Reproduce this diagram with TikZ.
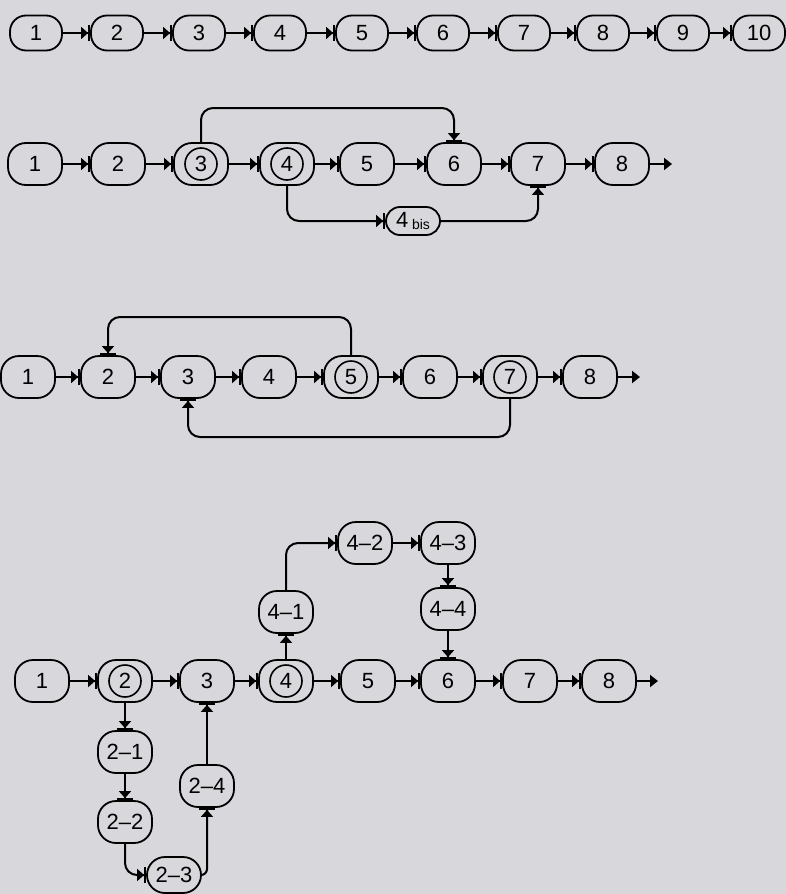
\documentclass[tikz,border=0pt]{standalone}
\usepackage{fontspec}
\setmainfont{Liberation Sans}
\usetikzlibrary{arrows.meta}
\definecolor{paper}{RGB}{216,216,220}

\tikzset{
  box/.style={draw, line width=0.9pt, rounded corners=9pt, minimum width=27pt, minimum height=21pt, inner sep=0pt, font=\fontsize{11}{13}\selectfont},
  slim/.style={box, rounded corners=8pt, minimum width=26pt, minimum height=17.5pt},
  ring/.style={box, path picture={\draw[line width=0.8pt] (path picture bounding box.center) circle (8pt);}},
  flow/.style={-{Triangle[length=3.5pt,width=6pt]Bar[width=8pt]}, line width=1pt, rounded corners=6pt},
  tail/.style={-{Triangle[length=4pt,width=6pt]}, line width=1pt}
}

\begin{document}
\begin{tikzpicture}[x=0.5pt,y=-0.5pt]
\fill[paper] (0,0) rectangle (786,894);
\useasboundingbox (0,0) rectangle (786,894);

% first chain
\node[slim] (a1) at (36,33) {1};
\node[slim] (a2) at (117,33) {2};
\node[slim] (a3) at (199,33) {3};
\node[slim] (a4) at (280,33) {4};
\node[slim] (a5) at (362,33) {5};
\node[slim] (a6) at (443,33) {6};
\node[slim] (a7) at (524,33) {7};
\node[slim] (a8) at (603,33) {8};
\node[slim] (a9) at (683,33) {9};
\node[slim] (a10) at (759,33) {10};
\draw[flow] (a1) -- (a2);
\draw[flow] (a2) -- (a3);
\draw[flow] (a3) -- (a4);
\draw[flow] (a4) -- (a5);
\draw[flow] (a5) -- (a6);
\draw[flow] (a6) -- (a7);
\draw[flow] (a7) -- (a8);
\draw[flow] (a8) -- (a9);
\draw[flow] (a9) -- (a10);

% second chain, with jump and 4 bis
\node[box] (b1) at (35,164) {1};
\node[box] (b2) at (118,164) {2};
\node[ring] (b3) at (201,164) {3};
\node[ring] (b4) at (287,164) {4};
\node[box] (b5) at (367,164) {5};
\node[box] (b6) at (454,164) {6};
\node[box] (b7) at (538,164) {7};
\node[box] (b8) at (622,164) {8};
\node[box,rounded corners=7pt,minimum height=14pt] (bbis) at (413,221) {4\,\raisebox{-1pt}{\scriptsize bis}};
\coordinate (bend) at (672,164);
\coordinate (btop) at (0,108);
\draw[flow] (b1) -- (b2);
\draw[flow] (b2) -- (b3);
\draw[flow] (b3) -- (b4);
\draw[flow] (b4) -- (b5);
\draw[flow] (b5) -- (b6);
\draw[flow] (b6) -- (b7);
\draw[flow] (b7) -- (b8);
\draw[tail] (b8) -- (bend);
\draw[flow] (b3.north) |- (btop -| b6.north) -- (b6.north);
\draw[flow] (b4.south) |- (bbis.west);
\draw[flow] (bbis.east) -| (b7.south);

% third chain, with two loops back
\node[box] (c1) at (28,377) {1};
\node[box] (c2) at (108,377) {2};
\node[box] (c3) at (188,377) {3};
\node[box] (c4) at (269,377) {4};
\node[ring] (c5) at (351,377) {5};
\node[box] (c6) at (430,377) {6};
\node[ring] (c7) at (510,377) {7};
\node[box] (c8) at (590,377) {8};
\coordinate (cend) at (640,377);
\coordinate (ctop) at (0,317);
\coordinate (cbot) at (0,437);
\draw[flow] (c1) -- (c2);
\draw[flow] (c2) -- (c3);
\draw[flow] (c3) -- (c4);
\draw[flow] (c4) -- (c5);
\draw[flow] (c5) -- (c6);
\draw[flow] (c6) -- (c7);
\draw[flow] (c7) -- (c8);
\draw[tail] (c8) -- (cend);
\draw[flow] (c5.north) |- (ctop -| c2.north) -- (c2.north);
\draw[flow] (c7.south) |- (cbot -| c3.south) -- (c3.south);

% fourth chain, with two branches
\node[box] (d1) at (42,681) {1};
\node[ring] (d2) at (125,681) {2};
\node[box] (d3) at (207,681) {3};
\node[ring] (d4) at (286,681) {4};
\node[box] (d5) at (368,681) {5};
\node[box] (d6) at (448,681) {6};
\node[box] (d7) at (530,681) {7};
\node[box] (d8) at (609,681) {8};
\coordinate (dend) at (658,681);
\node[box] (d41) at (286,612) {4--1};
\node[box] (d42) at (365,543) {4--2};
\node[box] (d43) at (448,543) {4--3};
\node[box] (d44) at (448,609) {4--4};
\node[box] (d21) at (125,752) {2--1};
\node[box] (d22) at (125,822) {2--2};
\node[box,minimum height=18pt] (d23) at (174,875) {2--3};
\node[box] (d24) at (207,786) {2--4};
\draw[flow] (d1) -- (d2);
\draw[flow] (d2) -- (d3);
\draw[flow] (d3) -- (d4);
\draw[flow] (d4) -- (d5);
\draw[flow] (d5) -- (d6);
\draw[flow] (d6) -- (d7);
\draw[flow] (d7) -- (d8);
\draw[tail] (d8) -- (dend);
\draw[flow] (d4) -- (d41);
\draw[flow] (d41.north) |- (d42.west);
\draw[flow] (d42) -- (d43);
\draw[flow] (d43) -- (d44);
\draw[flow] (d44) -- (d6);
\draw[flow] (d2) -- (d21);
\draw[flow] (d21) -- (d22);
\draw[flow] (d22.south) |- (d23.west);
\draw[flow,rounded corners=3pt] (d23.east) -| (d24.south);
\draw[flow] (d24) -- (d3);
\end{tikzpicture}
\end{document}
